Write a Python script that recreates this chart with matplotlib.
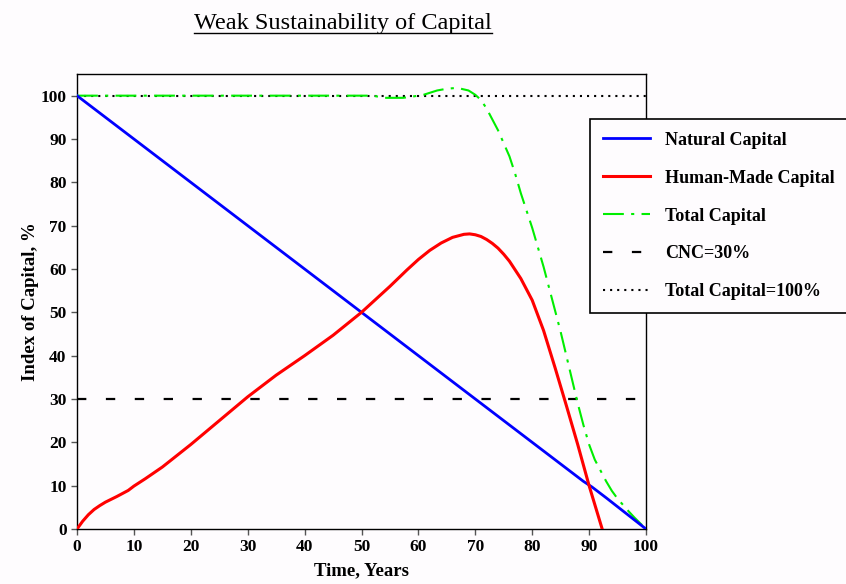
import matplotlib
matplotlib.use('Agg')
import matplotlib.pyplot as plt
from matplotlib.lines import Line2D
import numpy as np

plt.rcParams['font.family'] = ['Liberation Serif', 'DejaVu Serif']

# 数据
natural_t = [0, 50, 89, 90.5, 93, 100]
natural_v = [100, 50, 11, 9.7, 7.2, 0]

human_t = [0, 1, 2, 3, 4, 5, 7, 9, 10, 12, 15, 20, 25, 30, 35, 40, 45, 50, 55,
           58, 60, 62, 64, 66, 68, 69, 70, 71, 72, 73, 74, 75, 76, 78, 80, 82,
           84, 86, 88, 90, 92.3]
human_v = [0, 1.8, 3.3, 4.5, 5.4, 6.2, 7.5, 8.9, 9.9, 11.6, 14.3, 19.5, 25,
           30.5, 35.5, 40, 44.7, 50, 56, 59.8, 62.2, 64.3, 66, 67.3, 68, 68.1,
           67.9, 67.5, 66.8, 65.9, 64.8, 63.4, 61.8, 57.8, 52.8, 45.8, 37.3,
           28.5, 19.5, 10, 0]

total_t = [0, 52, 54, 57.3, 59, 60.9, 63.3, 65, 66.8, 68.8, 70, 71, 72, 73, 74,
           75, 76, 77, 78, 79, 80, 81, 82, 83, 84, 85, 86, 87, 88, 89, 90, 91,
           92, 93, 94, 95, 96, 97, 98, 99, 100]
total_v = [100, 100, 99.5, 99.5, 99.8, 100.2, 101.2, 101.6, 101.8, 101.2, 100.2,
           99, 97, 94.5, 92, 89, 86, 82, 77.5, 73.5, 69.5, 65, 60.5, 55.5, 50.5,
           45.5, 40, 34.5, 29, 24, 19.5, 16, 13.5, 11, 8.8, 7, 5.5, 4, 2.6, 1.3,
           0]

cnc_level = 30
total_level = 100

labels = ['Natural Capital', 'Human-Made Capital', 'Total Capital',
          'CNC=30%', 'Total Capital=100%']

bg = '#fefcfe'
fig = plt.figure(figsize=(8.46, 5.84), dpi=100, facecolor=bg)
ax = fig.add_axes([77 / 846, 55 / 584, 569 / 846, 455 / 584])
ax.set_facecolor(bg)

ax.plot(natural_t, natural_v, color='#0000ff', lw=2, label=labels[0], zorder=4)
ax.plot(human_t, human_v, color='#ff0000', lw=2.2, label=labels[1], zorder=4)
ax.plot(total_t, total_v, color='#00ee00', lw=1.5, dashes=(10, 3.5, 1.5, 3.5),
        label=labels[2], zorder=3)
ax.axhline(cnc_level, color='black', lw=1.6, dashes=(4.2, 8.8), label=labels[3])
ax.axhline(total_level, color='black', lw=1.5, dashes=(1, 2.4), label=labels[4])

ax.set_xlim(0, 100)
ax.set_ylim(0, 105)
ax.set_xticks(np.arange(0, 101, 10))
ax.set_yticks(np.arange(0, 101, 10))
for lab in ax.get_xticklabels() + ax.get_yticklabels():
    lab.set_fontweight('bold')
ax.tick_params(labelsize=12.5, length=4, width=1, color='#555555')
for s in ax.spines.values():
    s.set_linewidth(1)

ax.set_xlabel('Time, Years', fontsize=13.5, fontweight='bold', labelpad=5)
ax.set_ylabel('Index of Capital, %', fontsize=13.5, fontweight='bold', labelpad=1)

leg = fig.legend(loc='upper left', bbox_to_anchor=(590 / 846, 1 - 119 / 584),
                 prop={'size': 13, 'weight': 'bold'}, frameon=True,
                 fancybox=False, edgecolor='black', facecolor=bg, framealpha=1,
                 handlelength=2.65, handletextpad=0.8, labelspacing=1.16,
                 borderpad=0.7, borderaxespad=0)
leg.get_frame().set_linewidth(1.2)

# 带下划线的标题
title = fig.text(343 / 846, 1 - 23 / 584, 'Weak Sustainability of Capital',
                 ha='center', va='center', fontsize=17.5)
fig.canvas.draw()
bb = title.get_window_extent().transformed(fig.transFigure.inverted())
fig.add_artist(Line2D([bb.x0, bb.x1], [bb.y0 + 0.001, bb.y0 + 0.001],
                      color='black', lw=1, transform=fig.transFigure))

fig.savefig('out.png', dpi=100, facecolor=bg)
